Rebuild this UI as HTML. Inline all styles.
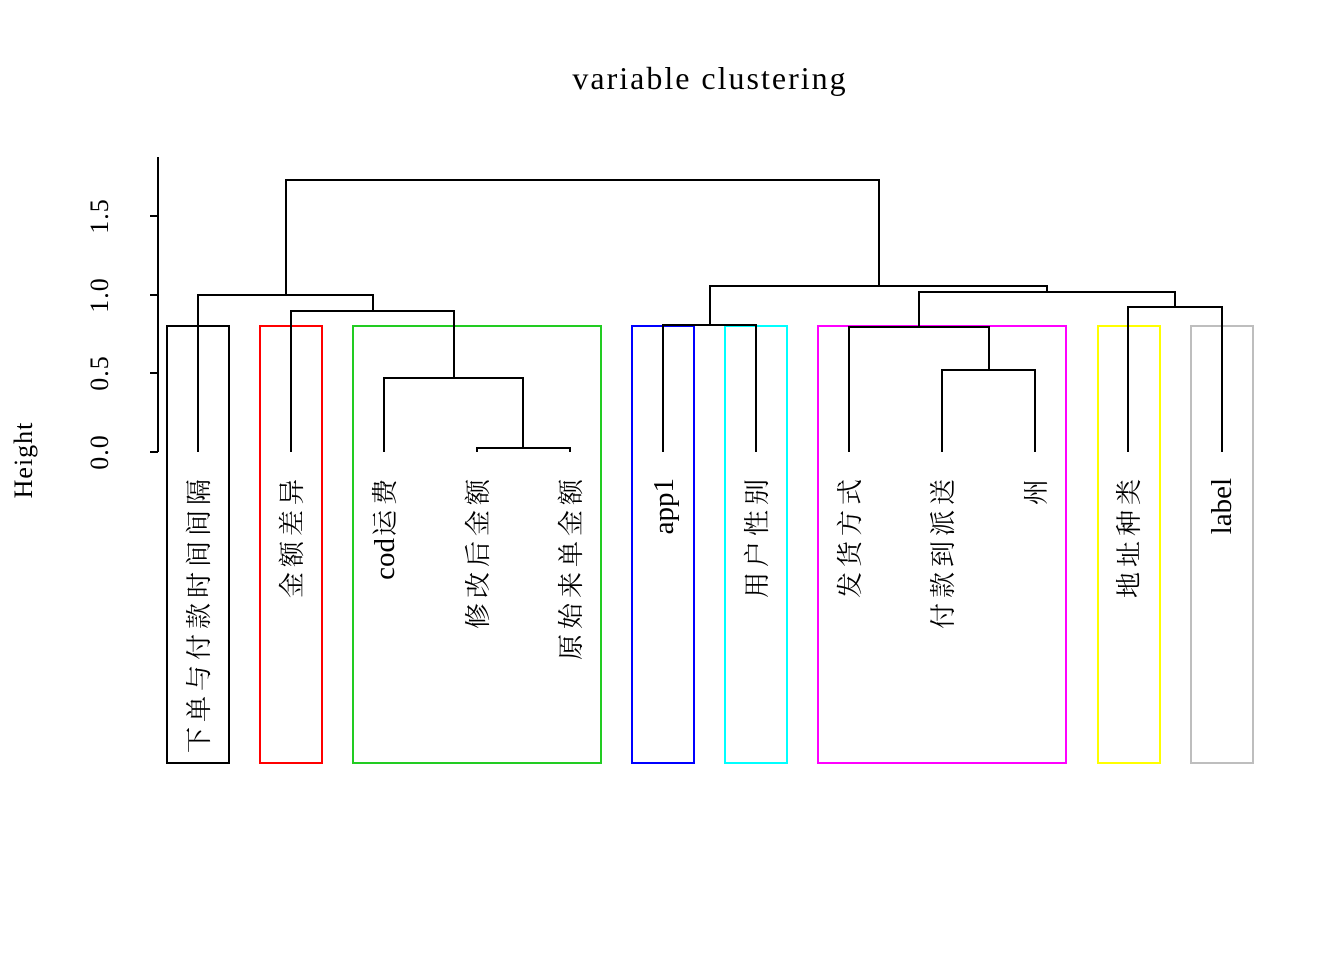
<!DOCTYPE html>
<html><head><meta charset="utf-8"><style>body{margin:0;background:#fff}</style></head><body>
<svg width="1344" height="960" xmlns="http://www.w3.org/2000/svg" style="display:block">
<rect width="1344" height="960" fill="#fff"/>
<text x="710" y="89" text-anchor="middle" font-family="Liberation Serif, serif" font-size="32" letter-spacing="2" fill="#000">variable clustering</text>
<g stroke="#000" stroke-width="2" fill="none">
<path d="M158,157V452M158,452H150M158,373H150M158,295H150M158,216H150"/>
</g>
<g font-family="Liberation Serif, serif" font-size="26" letter-spacing="1" fill="#000" text-anchor="middle">
<text transform="translate(108,452) rotate(-90)">0.0</text>
<text transform="translate(108,373) rotate(-90)">0.5</text>
<text transform="translate(108,295) rotate(-90)">1.0</text>
<text transform="translate(108,216) rotate(-90)">1.5</text>
<text transform="translate(32,460) rotate(-90)">Height</text>
</g>
<g stroke-width="2" fill="none">
<rect x="167" y="326" width="62" height="437" stroke="#000"/>
<rect x="260" y="326" width="62" height="437" stroke="#ff0000"/>
<rect x="353" y="326" width="248" height="437" stroke="#22cc22"/>
<rect x="632" y="326" width="62" height="437" stroke="#0000ff"/>
<rect x="725" y="326" width="62" height="437" stroke="#00ffff"/>
<rect x="818" y="326" width="248" height="437" stroke="#ff00ff"/>
<rect x="1098" y="326" width="62" height="437" stroke="#ffff00"/>
<rect x="1191" y="326" width="62" height="437" stroke="#bebebe"/>
</g>
<g stroke="#000" stroke-width="2" fill="none">
<path d="M477,452V448H570V452"/>
<path d="M384,452V378H523V448"/>
<path d="M291,452V311H454V378"/>
<path d="M198,452V295H373V311"/>
<path d="M663,452V325H756V452"/>
<path d="M942,452V370H1035V452"/>
<path d="M849,452V327H989V370"/>
<path d="M1128,452V307H1222V452"/>
<path d="M919,327V292H1175V307"/>
<path d="M710,325V286H1047V292"/>
<path d="M286,295V180H879V286"/>
</g>
<g font-family="Liberation Serif, 'Noto Serif CJK SC', serif" font-size="26" fill="#000" text-anchor="end" letter-spacing="5">
<text transform="translate(208,474) rotate(-90)">下单与付款时间间隔</text>
<text transform="translate(301,474) rotate(-90)">金额差异</text>
<text transform="translate(394,474) rotate(-90)"><tspan font-size="29" letter-spacing="0">cod</tspan><tspan dx="2">运费</tspan></text>
<text transform="translate(487,474) rotate(-90)">修改后金额</text>
<text transform="translate(580,474) rotate(-90)">原始来单金额</text>
<text transform="translate(673,478) rotate(-90)" font-size="29" letter-spacing="0">app1</text>
<text transform="translate(766,474) rotate(-90)">用户性别</text>
<text transform="translate(859,474) rotate(-90)">发货方式</text>
<text transform="translate(952,474) rotate(-90)">付款到派送</text>
<text transform="translate(1045,474) rotate(-90)">州</text>
<text transform="translate(1138,474) rotate(-90)">地址种类</text>
<text transform="translate(1231,478) rotate(-90)" font-size="29" letter-spacing="0">label</text>
</g>
</svg>
</body></html>
